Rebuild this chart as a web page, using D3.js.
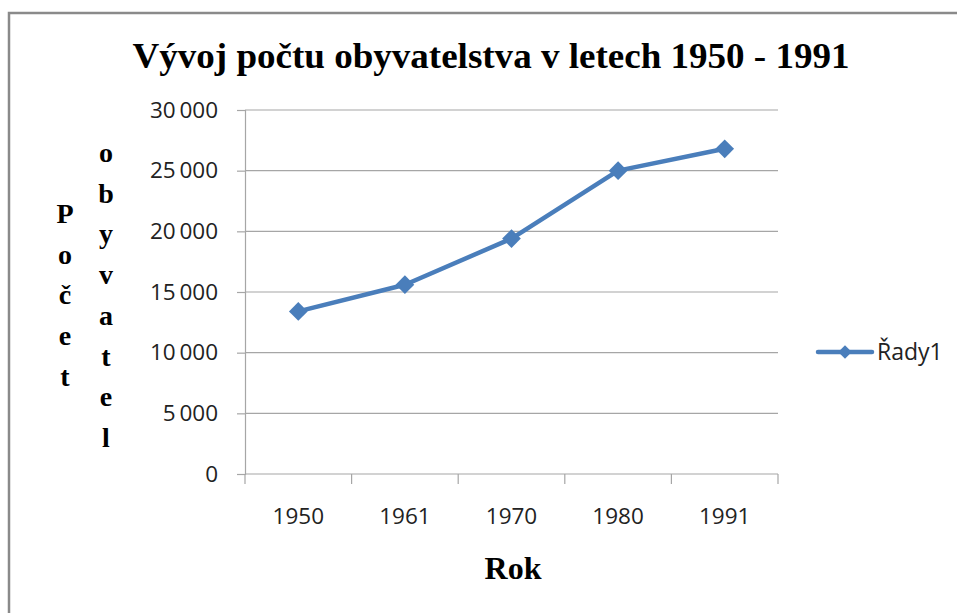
<!DOCTYPE html>
<html><head><meta charset="utf-8">
<script src="https://cdn.jsdelivr.net/npm/d3@7"></script>
<style>body{margin:0;background:#fff}svg{display:block}</style>
</head><body>
<svg id="c" width="957" height="613"></svg>
<script>
const title = "Vývoj počtu obyvatelstva v letech 1950 - 1991";
const years = ["1950", "1961", "1970", "1980", "1991"];
const population = [13400, 15600, 19400, 25000, 26800];
const yTicks = [0, 5000, 10000, 15000, 20000, 25000, 30000];
const seriesName = "Řady1";
const xTitle = "Rok";
const yTitleCols = ["Počet", "obyvatel"];

const svg = d3.select("#c");
const color = "#4A7EBB";
const grid = "#A6A6A6";
const L = 245, R = 778, T = 110, B = 474;

svg.append("rect").attr("x", 9).attr("y", 13).attr("width", 1000).attr("height", 700)
  .attr("fill", "#fff").attr("stroke", "#8a8a8a").attr("stroke-width", 2.5);

const x = d3.scaleBand().domain(years).range([L, R]);
const y = d3.scaleLinear().domain([0, 30000]).range([B, T]);
const loc = d3.formatLocale({decimal: ",", thousands: "\u2009", grouping: [3], currency: ["", ""]});
const fmt = loc.format(",d");

// gridlines
svg.append("g").selectAll("line").data(yTicks).join("line")
  .attr("x1", L).attr("x2", R).attr("y1", d => y(d)).attr("y2", d => y(d))
  .attr("stroke", grid).attr("stroke-width", 1.2);

// y axis
const ya = svg.append("g").attr("transform", `translate(${L},0)`)
  .call(d3.axisLeft(y).tickValues(yTicks).tickFormat(fmt).tickSize(8).tickPadding(19));
ya.select(".domain").attr("stroke", grid).attr("stroke-width", 1.2);
ya.selectAll(".tick line").attr("stroke", grid).attr("stroke-width", 1.2);
ya.selectAll(".tick text").attr("font-family", "Open Sans").attr("font-size", 22.5).attr("fill", "#222");

// x axis
const bounds = years.map(d => x(d)).concat([x(years[years.length - 1]) + x.bandwidth()]);
svg.append("g").selectAll("line").data(bounds).join("line")
  .attr("x1", d => d).attr("x2", d => d).attr("y1", B).attr("y2", B + 10)
  .attr("stroke", grid).attr("stroke-width", 1.2);
svg.append("g").selectAll("text").data(years).join("text")
  .attr("x", d => x(d) + x.bandwidth() / 2).attr("y", 524)
  .attr("text-anchor", "middle").attr("font-family", "Open Sans").attr("font-size", 22.5).attr("fill", "#222")
  .text(d => d);

// line
const pts = years.map((d, i) => [x(d) + x.bandwidth() / 2, y(population[i])]);
svg.append("path").attr("d", d3.line()(pts)).attr("fill", "none")
  .attr("stroke", color).attr("stroke-width", 4.5).attr("stroke-linejoin", "round");
const diamond = d3.symbol().type(d3.symbolSquare).size(175);
svg.append("g").selectAll("path").data(pts).join("path")
  .attr("d", diamond).attr("transform", d => `translate(${d[0]},${d[1]}) rotate(45)`)
  .attr("fill", color);

// title
svg.append("text").attr("x", 491).attr("y", 68).attr("text-anchor", "middle")
  .attr("font-family", "Liberation Serif").attr("font-weight", "bold").attr("font-size", 36)
  .attr("textLength", 717).attr("lengthAdjust", "spacingAndGlyphs")
  .attr("fill", "#000").text(title);

// x title
svg.append("text").attr("x", 513).attr("y", 579).attr("text-anchor", "middle")
  .attr("font-family", "Liberation Serif").attr("font-weight", "bold").attr("font-size", 32)
  .attr("fill", "#000").text(xTitle);

// y title stacked
const colX = [65, 106], colY0 = [223, 162], step = 40.7;
yTitleCols.forEach((w, ci) => {
  svg.append("g").selectAll("text").data(Array.from(w)).join("text")
    .attr("x", colX[ci]).attr("y", (d, i) => colY0[ci] + i * step)
    .attr("text-anchor", "middle").attr("font-family", "Liberation Serif")
    .attr("font-weight", "bold").attr("font-size", 28).attr("fill", "#000").text(d => d);
});

// legend
const ly = 352;
svg.append("line").attr("x1", 818).attr("x2", 872).attr("y1", ly).attr("y2", ly)
  .attr("stroke", color).attr("stroke-width", 4.5).attr("stroke-linecap", "round");
svg.append("path").attr("d", d3.symbol().type(d3.symbolSquare).size(90)())
  .attr("transform", `translate(845,${ly}) rotate(45)`).attr("fill", color);
svg.append("text").attr("x", 877).attr("y", ly + 8).attr("font-family", "Open Sans")
  .attr("font-size", 23).attr("fill", "#222").text(seriesName);
</script>
</body></html>
